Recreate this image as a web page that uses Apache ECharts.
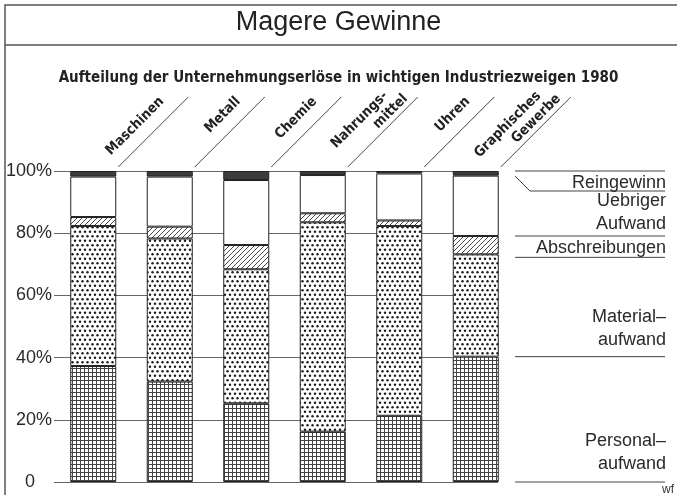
<!DOCTYPE html>
<html>
<head>
<meta charset="utf-8">
<script src="https://cdn.jsdelivr.net/npm/echarts@6/dist/echarts.min.js"></script>
<style>
html, body { margin: 0; background: #fff; }
#main { width: 677px; height: 495px; }
</style>
</head>
<body>
<div id="main"></div>
<script>
// Branchen (x-Achse)
var branchen = ['Maschinen', 'Metall', 'Chemie', 'Nahrungs-\nmittel', 'Uhren', 'Graphisches\nGewerbe'];
// Anteile an den Erlösen in %, von unten nach oben
var personal = [37.3, 32.3, 25.3, 16.2, 21.3, 40.3];
var material = [45.0, 46.0, 43.1, 67.3, 61.0, 32.9];
var abschreibungen = [2.9, 3.8, 7.8, 2.9, 1.8, 5.9];
var uebriger = [13.0, 16.1, 20.9, 12.3, 15.1, 19.4];
var reingewinn = [1.8, 1.8, 2.9, 1.3, 0.8, 1.5];
// Beschriftungen
var yTicks = [0, 20, 40, 60, 80, 100];
var legende = ['Personal–\naufwand', 'Material–\naufwand', 'Abschreibungen', 'Uebriger\nAufwand', 'Reingewinn'];

var schrift = '"Liberation Sans", Arial, sans-serif';
var schriftSchmal = '"DejaVu Sans", sans-serif';

// Rastermuster als Canvas
function muster(w, h, zeichnen) {
	var c = document.createElement('canvas');
	c.width = w;
	c.height = h;
	var ctx = c.getContext('2d');
	ctx.fillStyle = '#fff';
	ctx.fillRect(0, 0, w, h);
	zeichnen(ctx, w, h);
	return { image: c, repeat: 'repeat' };
}
var gitter = muster(4, 4, function (ctx) {
	ctx.fillStyle = '#444';
	ctx.fillRect(0, 0, 4, 1);
	ctx.fillRect(0, 0, 1, 4);
});
var punkte = muster(10, 9, function (ctx) {
	ctx.fillStyle = '#1a1a1a';
	[[2.5, 2.25], [7.5, 2.25], [0, 6.75], [5, 6.75], [10, 6.75]].forEach(function (p) {
		ctx.beginPath();
		ctx.arc(p[0], p[1], 1.2, 0, Math.PI * 2);
		ctx.fill();
	});
});
var schraffur = muster(5, 5, function (ctx, w, h) {
	ctx.strokeStyle = '#333';
	ctx.lineWidth = 0.9;
	[-5, 0, 5].forEach(function (d) {
		ctx.beginPath();
		ctx.moveTo(d - 1, h + 1);
		ctx.lineTo(d + w + 1, -1);
		ctx.stroke();
	});
});

var reihen = [
	{ name: legende[0], data: personal, color: gitter },
	{ name: legende[1], data: material, color: punkte },
	{ name: legende[2], data: abschreibungen, color: schraffur },
	{ name: legende[3], data: uebriger, color: '#fff' },
	{ name: legende[4], data: reingewinn, color: '#3c3c3c' }
];

var myChart = echarts.init(document.getElementById('main'));

var labelStil = { fontFamily: schriftSchmal, fontSize: 14, fontWeight: 'bold condensed', color: '#222', lineHeight: 16 };

var option = {
	backgroundColor: '#fff',
	animation: false,
	title: [{
		text: 'Magere Gewinne',
		left: 'center',
		top: 4,
		textStyle: { fontFamily: schrift, fontSize: 27, fontWeight: 'normal', color: '#222' }
	}, {
		text: 'Aufteilung der Unternehmungserlöse in wichtigen Industriezweigen 1980',
		left: 'center',
		top: 66,
		textStyle: { fontFamily: schriftSchmal, fontSize: 15, fontWeight: 'bold condensed', color: '#222' }
	}],
	grid: [
		{ left: 55, top: 171, width: 459, height: 311 },
		{ left: 54, top: 171, width: 444, height: 311 }
	],
	xAxis: [{
		type: 'category',
		gridIndex: 0,
		data: branchen,
		position: 'top',
		axisLine: { show: false },
		axisTick: { show: false },
		axisLabel: {
			rotate: 45,
			margin: 3,
			align: 'left',
			verticalAlign: 'middle',
			interval: 0,
			formatter: function (v) {
				var teile = v.split('\n');
				if (teile.length === 1) return '{a|' + v + '}';
				return '{a|' + teile[0] + '}{p| }\n{b|' + teile[1] + '}';
			},
			rich: {
				a: echarts.util.extend({ width: 97, align: 'right' }, labelStil),
				b: echarts.util.extend({ width: 109, align: 'right' }, labelStil),
				p: { width: 12, align: 'right', fontSize: 14, lineHeight: 16 }
			}
		}
	}, {
		type: 'value',
		gridIndex: 1,
		show: false
	}],
	yAxis: [{
		type: 'value',
		gridIndex: 0,
		min: 0,
		max: 100,
		show: false
	}, {
		type: 'value',
		gridIndex: 1,
		min: 0,
		max: 100,
		interval: 20,
		axisLine: { show: false },
		axisTick: { show: false },
		splitLine: { lineStyle: { color: '#666', width: 1 } },
		axisLabel: {
			margin: 2,
			fontFamily: schrift,
			fontSize: 18,
			color: '#2a2a2a',
			formatter: function (v) {
				return yTicks.indexOf(v) === 0 ? '{z|0}' : v + '%';
			},
			rich: {
				z: { fontFamily: schrift, fontSize: 18, color: '#2a2a2a', padding: [0, 17, 0, 0] }
			}
		}
	}],
	series: reihen.map(function (r) {
		return {
			name: r.name,
			type: 'bar',
			stack: 'erloes',
			xAxisIndex: 0,
			yAxisIndex: 0,
			barWidth: 46,
			data: r.data,
			itemStyle: { color: r.color, borderColor: '#222', borderWidth: 1 }
		};
	})
};

myChart.setOption(option);

// Schräge Linien, Legende und Rahmen
var grafik = [];
var linie = { stroke: '#444', lineWidth: 1 };
grafik.push({
	type: 'rect', silent: true,
	shape: { x: 5, y: 5, width: 700, height: 520 },
	style: { fill: null, stroke: '#555', lineWidth: 1.5 }
});
grafik.push({
	type: 'line', silent: true,
	shape: { x1: 5, y1: 45, x2: 677, y2: 45 },
	style: { stroke: '#555', lineWidth: 1.5 }
});
branchen.forEach(function (b, i) {
	var p = myChart.convertToPixel({ gridIndex: 0 }, [i, 100]);
	var x0 = p[0] + 25, y0 = p[1] - 4;
	grafik.push({
		type: 'line', silent: true,
		shape: { x1: x0, y1: y0, x2: x0 + 70, y2: y0 - 70 },
		style: linie
	});
});

// Segmentgrenzen der letzten Säule
var letzte = branchen.length - 1;
var summe = 0;
var grenzen = [0];
reihen.forEach(function (r) {
	summe += r.data[letzte];
	grenzen.push(summe);
});
var yPix = grenzen.map(function (v) {
	return myChart.convertToPixel({ gridIndex: 0 }, [letzte, v])[1];
});
var lx1 = 515, lx2 = 665;
// Trennlinien: 0, Personal, Material, Abschreibungen, 100
[0, 1, 2, 3, 5].forEach(function (k) {
	grafik.push({
		type: 'line', silent: true,
		shape: { x1: lx1, y1: yPix[k] + (k === 2 ? 3 : 0), x2: lx2, y2: yPix[k] + (k === 2 ? 3 : 0) },
		style: linie
	});
});
// Knick unter "Reingewinn"
var yKnick = yPix[5] + 20;
grafik.push({
	type: 'polyline', silent: true,
	shape: { points: [[lx1, yPix[5] + 5], [lx1 + 15, yKnick], [lx2, yKnick]] },
	style: { stroke: '#444', lineWidth: 1, fill: null }
});
var unten = [yPix[0], yPix[1], yPix[2], yPix[3], yKnick];
var abstand = [-6, -5, 5, 0, 4];
legende.forEach(function (t, k) {
	grafik.push({
		type: 'text', silent: true,
		x: 666, y: unten[k] + abstand[k],
		style: {
			text: t, align: 'right', verticalAlign: 'bottom',
			font: '18px ' + schrift, fill: '#2a2a2a', lineHeight: 23
		}
	});
});
grafik.push({
	type: 'text', silent: true,
	x: 662, y: 490,
	style: { text: 'wf', align: 'left', verticalAlign: 'middle', font: '12px ' + schrift, fill: '#333' }
});

myChart.setOption({ graphic: grafik });
</script>
</body>
</html>
